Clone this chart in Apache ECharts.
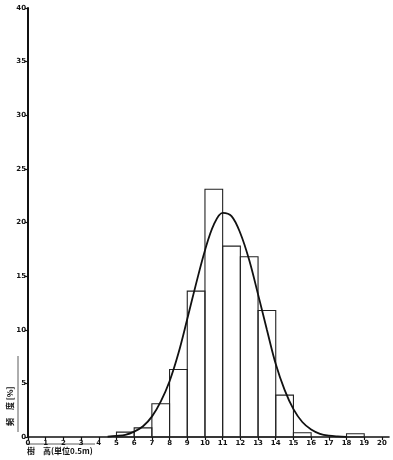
<!DOCTYPE html>
<html>
<head>
<meta charset="utf-8">
<script src="https://cdn.jsdelivr.net/npm/echarts@6/dist/echarts.min.js"></script>
<style>
  html, body { margin: 0; padding: 0; background: #fff; }
  #chart { width: 393px; height: 460px; }
</style>
</head>
<body>
<div id="chart"></div>
<script>
// Class lower bounds (units of 0.5 m) and relative frequency (%) of each class
const binStarts = [5, 6, 7, 8, 9, 10, 11, 12, 13, 14, 15, 18];
const binFreq   = [0.45, 0.85, 3.1, 6.3, 13.6, 23.1, 17.8, 16.8, 11.8, 3.9, 0.4, 0.3];

// Fitted distribution curve, sampled every half class
const curveX = [4.5, 5, 5.5, 6, 6.5, 7, 7.5, 8, 8.5, 9, 9.5, 10, 10.5, 11, 11.5, 12, 12.5, 13, 13.5, 14, 14.5, 15, 15.5, 16, 16.5, 17, 17.5, 18];
const curveY = [0.03, 0.1, 0.2, 0.5, 1.0, 1.9, 3.3, 5.2, 7.8, 11.0, 14.3, 17.4, 19.8, 20.9, 20.6, 19.0, 16.5, 13.3, 10.0, 6.8, 4.4, 2.6, 1.4, 0.7, 0.3, 0.12, 0.05, 0.02];

// Tick labels
const xTicks = [0, 1, 2, 3, 4, 5, 6, 7, 8, 9, 10, 11, 12, 13, 14, 15, 16, 17, 18, 19, 20];
const yTicks = [0, 5, 10, 15, 20, 25, 30, 35, 40];

const xTitle = '樹　高(単位0.5m)';
const yTitle = '頻　度 [%]';

const ink = '#111';
const font = 'DejaVu Sans';

const chart = echarts.init(document.getElementById('chart'), null, { renderer: 'canvas' });

chart.setOption({
  animation: false,
  backgroundColor: '#fff',
  grid: { left: 28, right: 4, top: 8, bottom: 23, containLabel: false },
  xAxis: {
    type: 'value',
    min: 0,
    max: 20.4,
    axisLine: { show: true, lineStyle: { color: ink, width: 1.6 } },
    axisTick: { show: true, customValues: xTicks, length: 3, inside: false, lineStyle: { color: ink, width: 1.2 } },
    axisLabel: {
      customValues: xTicks,
      color: ink, fontSize: 7, fontWeight: 'bold', fontFamily: font, margin: 3
    },
    splitLine: { show: false }
  },
  yAxis: {
    type: 'value',
    min: 0,
    max: 40,
    interval: 5,
    axisLine: { show: true, lineStyle: { color: ink, width: 2 } },
    axisTick: { show: true, length: 3, lineStyle: { color: ink, width: 1.2 } },
    axisLabel: {
      customValues: yTicks,
      color: ink, fontSize: 7, fontWeight: 'bold', fontFamily: font, margin: 2
    },
    splitLine: { show: false }
  },
  series: [
    {
      type: 'custom',
      name: 'freq',
      z: 2,
      data: binStarts.map((s, i) => [s, binFreq[i]]),
      renderItem: function (params, api) {
        const x0 = api.value(0);
        const v = api.value(1);
        const p0 = api.coord([x0, 0]);
        const p1 = api.coord([x0 + 1, v]);
        return {
          type: 'rect',
          shape: { x: p0[0], y: p1[1], width: p1[0] - p0[0], height: p0[1] - p1[1] },
          style: { fill: 'rgba(255,255,255,0)', stroke: '#222', lineWidth: 1.1 }
        };
      }
    },
    {
      type: 'line',
      name: 'curve',
      z: 3,
      smooth: 0.35,
      showSymbol: false,
      symbol: 'none',
      lineStyle: { color: ink, width: 1.8 },
      data: curveX.map((x, i) => [x, curveY[i]])
    }
  ],
  graphic: [
    {
      type: 'text',
      left: 27,
      top: 447,
      style: { text: xTitle, fill: ink, font: 'bold 8px "Noto Sans CJK JP"' }
    },
    {
      type: 'line',
      shape: { x1: 27, y1: 444, x2: 95, y2: 444 },
      style: { stroke: '#333', lineWidth: 0.8 }
    },
    {
      type: 'text',
      x: 10,
      y: 426,
      rotation: Math.PI / 2,
      style: { text: yTitle, fill: ink, font: 'bold 8px "Noto Sans CJK JP"', align: 'left', verticalAlign: 'middle' }
    },
    {
      type: 'line',
      shape: { x1: 18, y1: 356, x2: 18, y2: 432 },
      style: { stroke: '#333', lineWidth: 0.8 }
    }
  ]
});
</script>
</body>
</html>
